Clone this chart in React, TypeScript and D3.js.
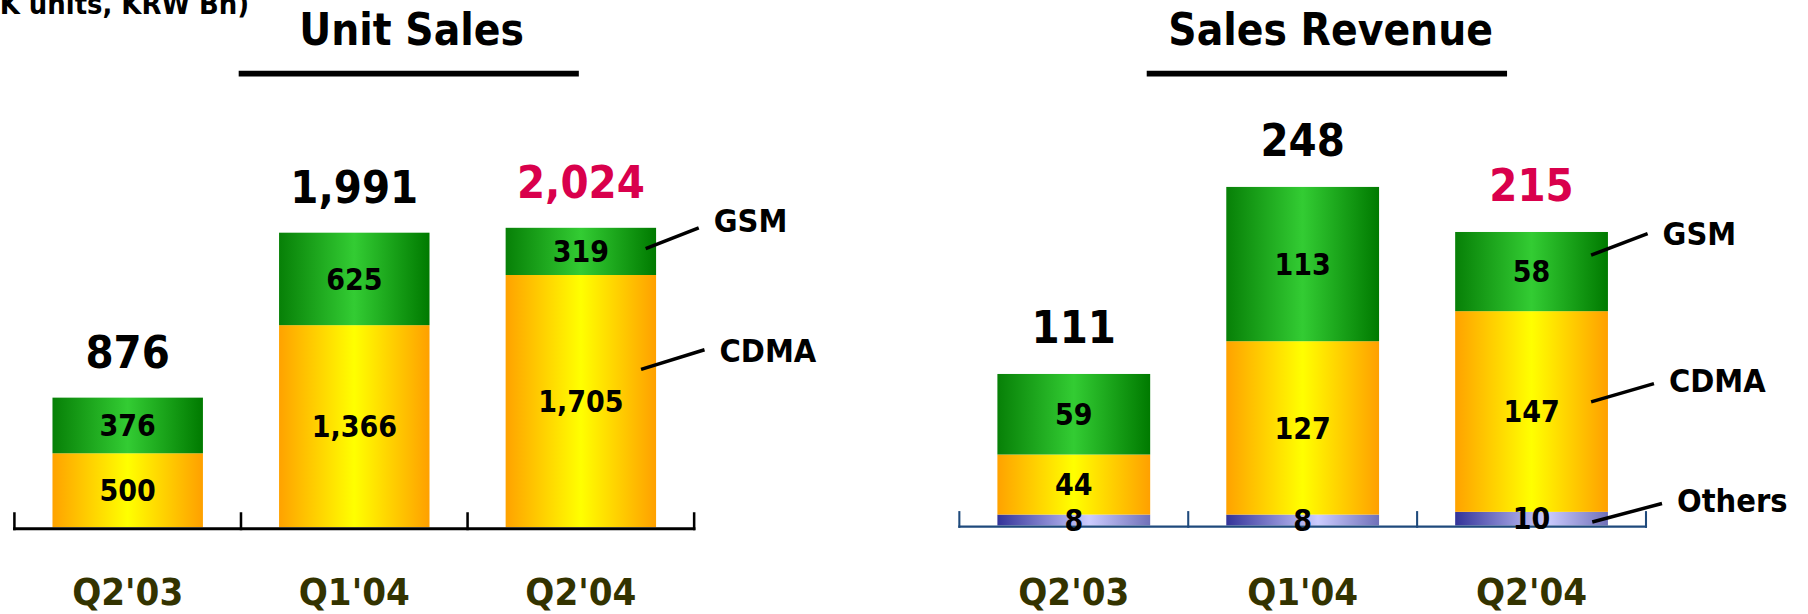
import React from "react";
import * as d3 from "d3";

// ---------------- data ----------------
const categories = ["Q2'03", "Q1'04", "Q2'04"];

const unitCDMA = [500, 1366, 1705];
const unitGSM = [376, 625, 319];
const unitTotals = [876, 1991, 2024];

const revOthers = [8, 8, 10];
const revCDMA = [44, 127, 147];
const revGSM = [59, 113, 58];
const revTotals = [111, 248, 215];

const highlightIndex = 2;
const unitTitle = "Unit Sales";
const revTitle = "Sales Revenue";
const unitsNote = "(K units, KRW Bn)";

// ---------------- layout / style ----------------
const VW = 1568;
const VH = 532;
const FONT = "'DejaVu Sans Condensed', 'DejaVu Sans', sans-serif";
const RED = "#D9004C";
const OLIVE = "#333300";

const gradients: Record<string, { id: string; stops: [number, string][] }> = {
  GSM: { id: "gGSM", stops: [[0, "#078007"], [0.5, "#33CC33"], [1, "#007A00"]] },
  CDMA: { id: "gCDMA", stops: [[0, "#FFA200"], [0.5, "#FFFF00"], [1, "#FFA000"]] },
  Others: { id: "gOth", stops: [[0, "#333399"], [0.6, "#CCCCFF"], [1, "#7070B8"]] },
};

type LegendItem = { key: string; frac: number; inset: number; dx: number; dy: number; textDy: number };

type Panel = {
  keys: string[];
  series: Record<string, number[]>;
  totals: number[];
  xRange: [number, number];
  padding: number;
  baseline: number;
  pxPerUnit: number;
  yMax: number;
  axisColor: string;
  axisWidth: number;
  tickLen: number;
  tickWidth: number;
  totalGap: number;
  title: string;
  titleX: number;
  underline: [number, number];
  legend: LegendItem[];
};

const panels: Panel[] = [
  {
    keys: ["CDMA", "GSM"],
    series: { CDMA: unitCDMA, GSM: unitGSM },
    totals: unitTotals,
    xRange: [12.5, 602],
    padding: 0.336,
    baseline: 457,
    pxPerUnit: 0.1283,
    yMax: 2500,
    axisColor: "#000000",
    axisWidth: 2.6,
    tickLen: 13,
    tickWidth: 2.2,
    totalGap: 26,
    title: unitTitle,
    titleX: 357,
    underline: [207, 502],
    legend: [
      { key: "GSM", frac: 0.56, inset: 9, dx: 46, dy: -18, textDy: 4 },
      { key: "CDMA", frac: 0.626, inset: 13, dx: 55, dy: -17, textDy: 11 },
    ],
  },
  {
    keys: ["Others", "CDMA", "GSM"],
    series: { Others: revOthers, CDMA: revCDMA, GSM: revGSM },
    totals: revTotals,
    xRange: [832, 1427.5],
    padding: 0.3325,
    baseline: 455.5,
    pxPerUnit: 1.184,
    yMax: 300,
    axisColor: "#1F4A7C",
    axisWidth: 2,
    tickLen: 12.5,
    tickWidth: 1.8,
    totalGap: 27,
    title: revTitle,
    titleX: 1154,
    underline: [994.5, 1307],
    legend: [
      { key: "GSM", frac: 0.707, inset: 14.6, dx: 49, dy: -18.7, textDy: 10 },
      { key: "CDMA", frac: 0.548, inset: 14.6, dx: 54.5, dy: -15.8, textDy: 7.5 },
      { key: "Others", frac: 0.26, inset: 13.6, dx: 60.5, dy: -16, textDy: 7.5 },
    ],
  },
];

const fmt = d3.format(",");

function PanelChart({ p }: { p: Panel }) {
  const x = d3
    .scaleBand<string>()
    .domain(categories)
    .range(p.xRange)
    .paddingInner(p.padding)
    .paddingOuter(p.padding / 2);
  const y = d3
    .scaleLinear()
    .domain([0, p.yMax])
    .range([p.baseline, p.baseline - p.yMax * p.pxPerUnit]);

  const rows = categories.map((c, i) => {
    const r: any = { cat: c };
    p.keys.forEach((k) => (r[k] = p.series[k][i]));
    return r;
  });
  const stacked = d3.stack<any>().keys(p.keys)(rows);
  const bw = x.bandwidth();
  const step = x.step();
  const tickXs = d3.range(categories.length + 1).map((i) => p.xRange[0] + i * step);
  const lastIdx = categories.length - 1;
  const lastCat = categories[lastIdx];

  return (
    <g>
      {/* title */}
      <text
        x={p.titleX}
        y={39}
        textAnchor="middle"
        fontFamily={FONT}
        fontWeight="bold"
        fontSize={38}
        fill="#000"
      >
        {p.title}
      </text>
      <line x1={p.underline[0]} x2={p.underline[1]} y1={63.7} y2={63.7} stroke="#000" strokeWidth={5} />

      {/* bars */}
      {stacked.map((s) =>
        s.map((d, i) => (
          <rect
            key={s.key + i}
            x={x(categories[i])!}
            y={y(d[1])}
            width={bw}
            height={y(d[0]) - y(d[1])}
            fill={`url(#${gradients[s.key].id})`}
          />
        ))
      )}

      {/* axis */}
      <line
        x1={p.xRange[0] - p.tickWidth / 2}
        x2={p.xRange[1] + p.tickWidth / 2}
        y1={p.baseline + p.axisWidth / 2}
        y2={p.baseline + p.axisWidth / 2}
        stroke={p.axisColor}
        strokeWidth={p.axisWidth}
      />
      {tickXs.map((tx, i) => (
        <line
          key={"t" + i}
          x1={tx}
          x2={tx}
          y1={p.baseline + p.axisWidth}
          y2={p.baseline - p.tickLen}
          stroke={p.axisColor}
          strokeWidth={p.tickWidth}
        />
      ))}

      {/* segment labels */}
      {stacked.map((s) =>
        s.map((d, i) => (
          <text
            key={"l" + s.key + i}
            x={x(categories[i])! + bw / 2}
            y={(y(d[0]) + y(d[1])) / 2}
            dy="0.36em"
            textAnchor="middle"
            fontFamily={FONT}
            fontWeight="bold"
            fontSize={26}
            fill="#000"
          >
            {fmt(d[1] - d[0])}
          </text>
        ))
      )}

      {/* totals */}
      {p.totals.map((t, i) => (
        <text
          key={"tot" + i}
          x={x(categories[i])! + bw / 2}
          y={y(t) - p.totalGap}
          textAnchor="middle"
          fontFamily={FONT}
          fontWeight="bold"
          fontSize={39}
          fill={i === highlightIndex ? RED : "#000"}
        >
          {fmt(t)}
        </text>
      ))}

      {/* category labels */}
      {categories.map((c) => (
        <text
          key={"c" + c}
          x={x(c)! + bw / 2}
          y={524.5}
          textAnchor="middle"
          fontFamily={FONT}
          fontWeight="bold"
          fontSize={33}
          fill={OLIVE}
        >
          {c}
        </text>
      ))}

      {/* legend callouts on the last bar */}
      {p.legend.map((L) => {
        const seg = stacked.find((s) => s.key === L.key)![lastIdx];
        const sx = x(lastCat)! + bw - L.inset;
        const sy = y(seg[0] + (seg[1] - seg[0]) * L.frac);
        const ex = x(lastCat)! + bw - L.inset + L.dx;
        const ey = sy + L.dy;
        return (
          <g key={"lg" + L.key}>
            <line x1={sx} y1={sy} x2={ex} y2={ey} stroke="#000" strokeWidth={3} />
            <text
              x={ex + 13}
              y={ey + L.textDy}
              fontFamily={FONT}
              fontWeight="bold"
              fontSize={28}
              fill="#000"
            >
              {L.key}
            </text>
          </g>
        );
      })}
    </g>
  );
}

export default function App() {
  return (
    <svg
      width={1808}
      height={614}
      viewBox={`0 0 ${VW} ${VH}`}
      style={{ position: "absolute", left: 0, top: 0, background: "#fff" }}
    >
      <defs>
        {Object.values(gradients).map((g) => (
          <linearGradient key={g.id} id={g.id} x1="0" x2="1" y1="0" y2="0">
            {g.stops.map(([o, c], i) => (
              <stop key={i} offset={o} stopColor={c} />
            ))}
          </linearGradient>
        ))}
      </defs>
      <rect x={0} y={0} width={VW} height={VH} fill="#fff" />
      <text x={216} y={12} textAnchor="end" fontFamily={FONT} fontWeight="bold" fontSize={25} fill="#000">
        {unitsNote}
      </text>
      {panels.map((p, i) => (
        <PanelChart key={i} p={p} />
      ))}
    </svg>
  );
}
